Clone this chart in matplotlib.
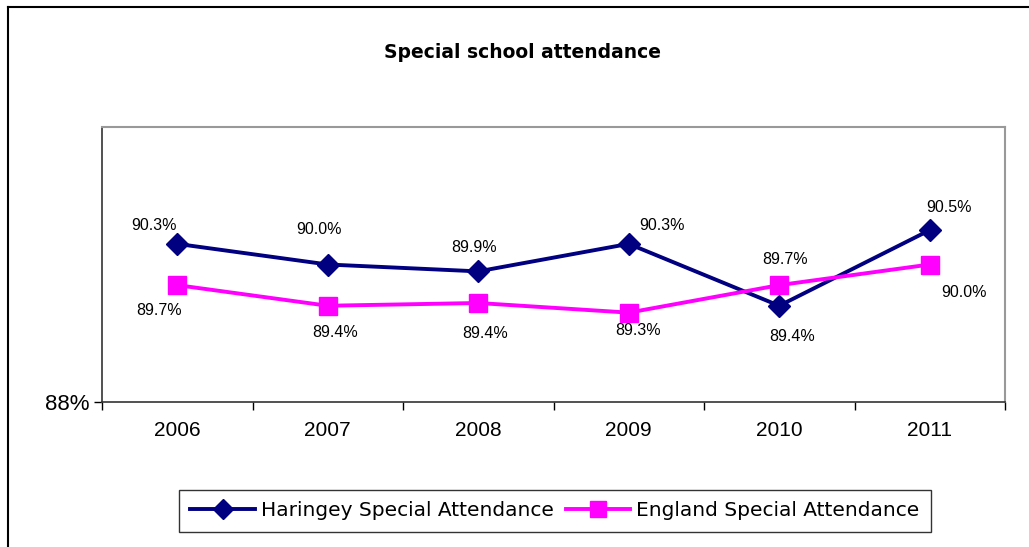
import matplotlib
matplotlib.use("Agg")
import matplotlib.pyplot as plt
from matplotlib.lines import Line2D

years = ["2006", "2007", "2008", "2009", "2010", "2011"]
haringey = [90.3, 90.0, 89.9, 90.3, 89.4, 90.5]
england = [89.7, 89.4, 89.44, 89.3, 89.7, 90.0]
series_names = ["Haringey Special Attendance", "England Special Attendance"]
title = "Special school attendance"

# label offsets in points (dx, dy)
h_offsets = [(-16.5, 13), (-6, 25), (-3, 17.5), (24, 13), (9, -22), (14, 16)]
e_offsets = [(-13, -18), (5, -19.5), (5, -22), (7, -13), (4, 18.5), (24.5, -20)]

fig = plt.figure(figsize=(10.29, 5.47), dpi=100)
ax = fig.add_axes([102/1029, 1-402/547, (1005-102)/1029, (402-127)/547])

x = list(range(len(years)))
navy = "#000080"
mag = "#FF00FF"
ax.plot(x, haringey, color=navy, lw=2.8, marker="D", ms=11, mfc=navy, mec=navy, zorder=3)
ax.plot(x, england, color=mag, lw=2.8, marker="s", ms=13, mfc=mag, mec=mag, zorder=3)

for xi, v, (dx, dy) in zip(x, haringey, h_offsets):
    ax.annotate(f"{v:.1f}%", (xi, v), xytext=(dx, dy), textcoords="offset points",
                ha="center", va="center", fontsize=11.5, family="Liberation Sans")
for xi, v, (dx, dy) in zip(x, england, e_offsets):
    ax.annotate(f"{v:.1f}%", (xi, v), xytext=(dx, dy), textcoords="offset points",
                ha="center", va="center", fontsize=11.5, family="Liberation Sans")

ax.set_xlim(-0.5, len(years) - 0.5)
ax.set_ylim(88, 92)
ax.set_yticks([88])
ax.set_yticklabels(["88%"], fontsize=16, family="Liberation Sans")
ax.set_xticks(x)
ax.set_xticklabels(years, fontsize=15, family="Liberation Sans")
ax.set_xticks([i + 0.5 for i in range(-1, len(years))], minor=True)
ax.tick_params(axis="x", which="major", length=0, pad=14)
ax.tick_params(axis="x", which="minor", length=6, width=1, direction="out")
ax.tick_params(axis="y", length=6, width=1, pad=3)

for s in ["left", "bottom"]:
    ax.spines[s].set_color("#333333")
    ax.spines[s].set_linewidth(1.2)
for s in ["top", "right"]:
    ax.spines[s].set_color("#999999")
    ax.spines[s].set_linewidth(1.5)

fig.text(522/1029, 1-53/547, title, ha="center", va="center", fontsize=13.5,
         fontweight="bold", family="DejaVu Sans")

handles = [Line2D([], [], color=navy, lw=2.8, marker="D", ms=10),
           Line2D([], [], color=mag, lw=2.8, marker="s", ms=11)]
leg = fig.legend(handles, series_names, loc="center", bbox_to_anchor=(555/1029, 1-511/547),
                 ncol=2, frameon=True, fancybox=False, edgecolor="black",
                 handlelength=3.2, handletextpad=0.3, columnspacing=0.6,
                 borderpad=0.55, prop={"family": "DejaVu Sans", "size": 14.5})
leg.get_frame().set_linewidth(1.0)

# figure outer border (top and left)
fig.add_artist(Line2D([8/1029, 8/1029], [0, 1-7/547], color="black", lw=1.5, transform=fig.transFigure))
fig.add_artist(Line2D([8/1029, 1], [1-7/547, 1-7/547], color="black", lw=1.5, transform=fig.transFigure))

fig.savefig("out.png", dpi=100)
